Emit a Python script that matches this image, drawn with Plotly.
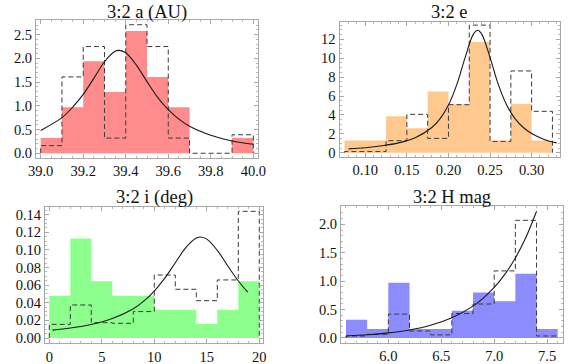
import plotly.graph_objects as go

W, H = 581, 364

# ---------------- data ----------------
# Panel 1: 3:2 a (AU)
edges_a = [39.0, 39.1, 39.2, 39.3, 39.4, 39.5, 39.6, 39.7, 39.8, 39.9, 40.0]
filled_a = [0.32, 0.97, 1.94, 1.29, 2.58, 1.61, 0.97, 0.0, 0.0, 0.32]
dashed_a = [0.16, 1.61, 2.25, 0.32, 2.71, 2.25, 0.32, 0.0, 0.0, 0.39]
curve_a_x = [39.0, 39.1, 39.15, 39.2, 39.25, 39.3, 39.35, 39.37, 39.4, 39.45, 39.5,
             39.55, 39.6, 39.65, 39.7, 39.8, 39.9, 40.0]
curve_a_y = [0.48, 0.75, 0.97, 1.24, 1.58, 1.93, 2.15, 2.17, 2.12, 1.86, 1.51,
             1.18, 0.92, 0.72, 0.57, 0.38, 0.26, 0.19]

# Panel 2: 3:2 e
edges_e = [0.075, 0.125, 0.15, 0.175, 0.2, 0.225, 0.25, 0.275, 0.3, 0.325]
filled_e = [1.29, 3.87, 2.58, 6.47, 5.12, 11.7, 1.29, 5.16, 1.29]
dashed_e = [0.12, 1.27, 4.06, 1.52, 5.08, 13.5, 1.2, 8.65, 4.38]
curve_e_x = [0.08, 0.10, 0.12, 0.14, 0.16, 0.18, 0.19, 0.20, 0.21, 0.22, 0.23, 0.235,
             0.24, 0.25, 0.26, 0.27, 0.28, 0.29, 0.30, 0.315, 0.33]
curve_e_y = [0.41, 0.53, 0.73, 1.04, 1.59, 2.67, 3.61, 5.05, 7.21, 10.06, 12.55, 12.95,
             12.55, 10.06, 7.21, 5.05, 3.61, 2.67, 2.03, 1.41, 1.04]

# Panel 3: 3:2 i (deg)
edges_i = [0, 2, 4, 6, 8, 10, 12, 14, 16, 18, 20]
filled_i = [0.048, 0.113, 0.0645, 0.048, 0.048, 0.032, 0.032, 0.016, 0.032, 0.0645]
dashed_i = [0.0155, 0.0375, 0.0174, 0.0167, 0.030, 0.0715, 0.0553, 0.0424, 0.0659, 0.1438]
curve_i_x = [0.3, 2, 4, 6, 8, 9, 10, 11, 12, 13, 14, 14.4, 15, 16, 17, 18, 18.9]
curve_i_y = [0.0089, 0.0113, 0.0154, 0.0221, 0.0333, 0.0419, 0.0533, 0.0679, 0.0854,
             0.1026, 0.1135, 0.1146, 0.1122, 0.0995, 0.0817, 0.0647, 0.0520]

# Panel 4: 3:2 H mag
edges_h = [5.6, 5.8, 6.0, 6.2, 6.4, 6.6, 6.8, 7.0, 7.2, 7.4, 7.6]
filled_h = [0.32, 0.16, 0.97, 0.16, 0.16, 0.48, 0.80, 0.645, 1.13, 0.16]
dashed_h = [0.035, 0.065, 0.42, 0.123, 0.055, 0.43, 0.598, 1.18, 2.07, 0.035]
curve_h_x = [5.6, 5.8, 6.0, 6.2, 6.4, 6.6, 6.8, 6.9, 7.0, 7.1, 7.2, 7.3, 7.4]
curve_h_y = [0.0355, 0.056, 0.089, 0.141, 0.224, 0.354, 0.561, 0.706, 0.889, 1.119,
             1.408, 1.772, 2.23]

titles = ["3:2 a (AU)", "3:2 e", "3:2 i (deg)", "3:2 H mag"]
fill_colors = ["rgb(255,140,140)", "rgb(255,200,143)", "rgb(140,255,140)", "rgb(140,140,255)"]

# ---------------- layout geometry (pixels of frames) ----------------
frames = [  # x0, x1, y0(top), y1(bottom)
    (36, 258, 20, 158),
    (339.5, 559.5, 21.7, 156.7),
    (45, 263.3, 207, 343.3),
    (341, 562.7, 206.3, 342.7),
]
xranges = [[38.978, 40.022], [0.069, 0.3335], [-0.41, 20.38], [5.553, 7.647]]
yranges = [[-0.1, 2.81], [-0.42, 13.86], [-0.006, 0.1487], [-0.083, 2.317]]
xticks = [dict(tick0=39.0, dtick=0.2, tickformat=".1f", minor_dtick=0.05),
          dict(tick0=0.10, dtick=0.05, tickformat=".2f", minor_dtick=0.01),
          dict(tick0=0, dtick=5, tickformat="d", minor_dtick=1),
          dict(tick0=6.0, dtick=0.5, tickformat=".1f", minor_dtick=0.1)]
yticks = [dict(tick0=0, dtick=0.5, tickformat=".1f", minor_dtick=0.1),
          dict(tick0=0, dtick=2, tickformat="d", minor_dtick=0.5),
          dict(tick0=0, dtick=0.02, tickformat=".2f", minor_dtick=0.005),
          dict(tick0=0, dtick=0.5, tickformat=".1f", minor_dtick=0.1)]
title_y_px = [12.3, 12.3, 197, 197]

datasets = [
    (edges_a, filled_a, dashed_a, curve_a_x, curve_a_y),
    (edges_e, filled_e, dashed_e, curve_e_x, curve_e_y),
    (edges_i, filled_i, dashed_i, curve_i_x, curve_i_y),
    (edges_h, filled_h, dashed_h, curve_h_x, curve_h_y),
]


def step_path(edges, heights):
    sx = [edges[0]]
    sy = [0]
    for i, h in enumerate(heights):
        sx += [edges[i], edges[i + 1]]
        sy += [h, h]
    sx.append(edges[-1])
    sy.append(0)
    return sx, sy


FONT = "Liberation Serif"
fig = go.Figure()
annotations = []

for k, (edges, filled, dashed, cx, cy) in enumerate(datasets):
    n = k + 1
    xa = "x" if n == 1 else f"x{n}"
    ya = "y" if n == 1 else f"y{n}"
    fx, fy = step_path(edges, filled)
    fig.add_trace(go.Scatter(x=fx, y=fy, mode="lines", fill="toself",
                             fillcolor=fill_colors[k], line=dict(width=0, color=fill_colors[k]),
                             xaxis=xa, yaxis=ya, showlegend=False, hoverinfo="skip"))
    sx, sy = step_path(edges, dashed)
    fig.add_trace(go.Scatter(x=sx, y=sy, mode="lines",
                             line=dict(color="#3a3a3a", width=1, dash="5px,3px"),
                             xaxis=xa, yaxis=ya, showlegend=False, hoverinfo="skip"))
    fig.add_trace(go.Scatter(x=cx, y=cy, mode="lines", line_shape="spline",
                             line=dict(color="#1a1a1a", width=1.1),
                             xaxis=xa, yaxis=ya, showlegend=False, hoverinfo="skip"))

    x0, x1, yt, yb = frames[k]
    axis_common = dict(showline=True, linecolor="#a8a8a8", linewidth=1, mirror="ticks",
                       ticks="inside", ticklen=4, tickcolor="#a8a8a8", tickwidth=1,
                       showgrid=False, zeroline=False, automargin=False,
                       tickfont=dict(family=FONT, size=14.5, color="#111"))
    xt = xticks[k]
    ytk = yticks[k]
    fig.update_layout(**{
        ("xaxis" if n == 1 else f"xaxis{n}"): dict(
            domain=[x0 / W, x1 / W], range=xranges[k], anchor=ya,
            tickmode="linear", tick0=xt["tick0"], dtick=xt["dtick"], tickformat=xt["tickformat"],
            minor=dict(ticks="inside", ticklen=2, tickcolor="#b8b8b8", dtick=xt["minor_dtick"],
                       tick0=xt["tick0"], showgrid=False),
            **axis_common),
        ("yaxis" if n == 1 else f"yaxis{n}"): dict(
            domain=[1 - yb / H, 1 - yt / H], range=yranges[k], anchor=xa,
            tickmode="linear", tick0=ytk["tick0"], dtick=ytk["dtick"], tickformat=ytk["tickformat"],
            minor=dict(ticks="inside", ticklen=2, tickcolor="#b8b8b8", dtick=ytk["minor_dtick"],
                       tick0=ytk["tick0"], showgrid=False),
            **axis_common),
    })
    annotations.append(dict(text=titles[k], xref="paper", yref="paper",
                            x=(x0 + x1) / 2 / W, y=1 - title_y_px[k] / H,
                            xanchor="center", yanchor="middle", showarrow=False,
                            font=dict(family=FONT, size=18.5, color="#111")))

fig.update_layout(width=W, height=H, margin=dict(l=0, r=0, t=0, b=0, autoexpand=False),
                  template="none",
                  paper_bgcolor="white", plot_bgcolor="white",
                  annotations=annotations, showlegend=False)

fig.write_html("out.html", config=dict(displayModeBar=False),
               post_script="document.body.style.margin='0';document.body.style.padding='0';")
